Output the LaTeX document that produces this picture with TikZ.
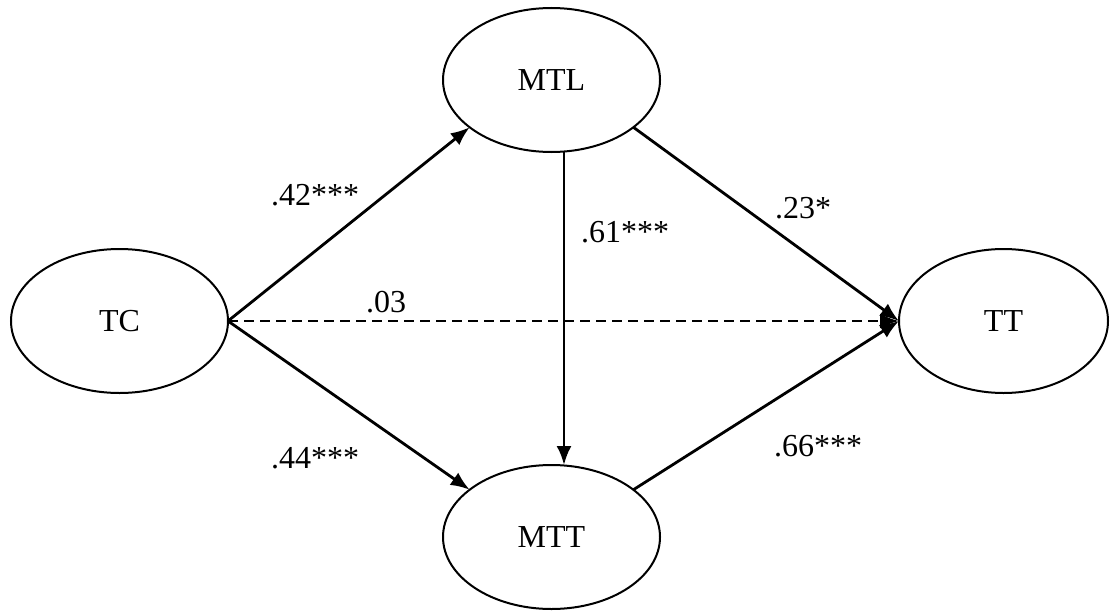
\documentclass[tikz,border=0pt]{standalone}
\usepackage{fontspec}
\setmainfont{Liberation Serif}
\usetikzlibrary{shapes.geometric,arrows.meta}
\begin{document}
\begin{tikzpicture}[x=1pt,y=-1pt,
  var/.style={draw, ellipse, line width=2pt, minimum width=217pt, minimum height=144pt, outer sep=0pt, inner sep=0pt, font=\fontsize{32}{36}\selectfont},
  path/.style={line width=2.8pt, -{Latex[length=19pt,width=15pt]}},
  coef/.style={inner sep=0pt, font=\fontsize{32}{36}\selectfont}]
\useasboundingbox (0,0) rectangle (1110,610);
\node[var] (TC) at (119.5,321) {TC};
\node[var] (MTL) at (551.5,80) {MTL};
\node[var] (MTT) at (551.5,537) {MTT};
\node[var, minimum width=209pt] (TT) at (1003.5,321) {TT};
\draw[path] (TC.east) -- (MTL.210);
\draw[path] (TC.east) -- (MTT.150);
\draw[path] ([xshift=12.5pt]MTL.south) -- ([xshift=12.5pt]MTT.north);
\draw[path] (MTL.-30) -- (TT.west);
\draw[path] (MTT.30) -- (TT.west);
\draw[path, dash pattern=on 10pt off 6pt] (TC.east) -- (TT.west);
\node[coef] (c1) at (315,195) {.42***};
\node[coef] (c2) at (386,302) {.03};
\node[coef] (c3) at (625,232) {.61***};
\node[coef] (c4) at (803,208) {.23*};
\node[coef] (c5) at (315,458) {.44***};
\node[coef] (c6) at (818,446) {.66***};
\end{tikzpicture}
\end{document}
